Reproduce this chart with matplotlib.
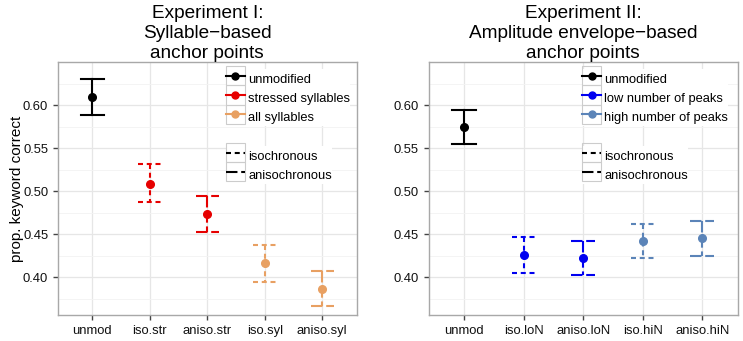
import matplotlib
matplotlib.use("Agg")
import matplotlib.pyplot as plt
from matplotlib.lines import Line2D
from matplotlib.patches import Rectangle
from matplotlib.legend_handler import HandlerLine2D

plt.rcParams["font.family"] = ["Liberation Sans", "DejaVu Sans"]

# Experimento I
cond1 = ["unmod", "iso.str", "aniso.str", "iso.syl", "aniso.syl"]
mean1 = [0.609, 0.5085, 0.4735, 0.416, 0.3865]
low1 = [0.589, 0.487, 0.4525, 0.3945, 0.3665]
high1 = [0.630, 0.5315, 0.4945, 0.437, 0.4075]
grupo1 = ["unmodified", "stressed syllables", "stressed syllables", "all syllables", "all syllables"]
tipo1 = ["solid", "iso", "aniso", "iso", "aniso"]

# Experimento II
cond2 = ["unmod", "iso.loN", "aniso.loN", "iso.hiN", "aniso.hiN"]
mean2 = [0.574, 0.4255, 0.4225, 0.442, 0.4455]
low2 = [0.5545, 0.4045, 0.4025, 0.4225, 0.425]
high2 = [0.594, 0.447, 0.442, 0.462, 0.4655]
grupo2 = ["unmodified", "low number of peaks", "low number of peaks",
          "high number of peaks", "high number of peaks"]
tipo2 = ["solid", "iso", "aniso", "iso", "aniso"]

colores = {
    "unmodified": "black",
    "stressed syllables": "#E60000",
    "all syllables": "#E8A062",
    "low number of peaks": "#0000F0",
    "high number of peaks": "#5B84B8",
}
estilos = {"solid": "-", "iso": (0, (2.4, 1.8)), "aniso": (0, (5.5, 1.8))}

titulos = ["Experiment I:\nSyllable\u2212based\nanchor points",
           "Experiment II:\nAmplitude envelope\u2212based\nanchor points"]


class Caja(HandlerLine2D):
    # clave de leyenda con recuadro gris, como en ggplot
    def create_artists(self, legend, orig_handle, xdescent, ydescent,
                       width, height, fontsize, trans):
        arts = super().create_artists(legend, orig_handle, xdescent, ydescent,
                                      width, height, fontsize, trans)
        centro = (height - ydescent) / 2
        r = Rectangle((-xdescent, centro - height / 2), width, height,
                      facecolor="none", edgecolor="#CCCCCC", lw=0.8,
                      transform=trans)
        return [r] + list(arts)


fig = plt.figure(figsize=(7.43, 3.41), dpi=100)
ax1 = fig.add_axes([0.078, 0.076, 0.402, 0.742])
ax2 = fig.add_axes([0.577, 0.076, 0.416, 0.742])


def panel(ax, cond, mean, low, high, grupo, tipo, titulo, leg_x, orden):
    x = list(range(1, len(cond) + 1))
    for xi, m, lo, hi, g, t in zip(x, mean, low, high, grupo, tipo):
        c = colores[g]
        ls = estilos[t]
        ax.plot([xi - 0.2, xi + 0.2], [hi, hi], color=c, ls=ls, lw=1.5, zorder=3)
        ax.plot([xi, xi], [hi, lo], color=c, ls=ls, lw=1.5, zorder=3)
        ax.plot([xi - 0.2, xi + 0.2], [lo, lo], color=c, ls=ls, lw=1.5, zorder=3)
        ax.plot(xi, m, "o", color=c, ms=5.5, zorder=4)

    ax.set_xlim(0.4, 5.6)
    ax.set_ylim(0.356, 0.65)
    ax.set_xticks(x)
    ax.set_xticklabels(cond)
    ax.set_yticks([0.40, 0.45, 0.50, 0.55, 0.60])
    ax.set_yticklabels(["0.40", "0.45", "0.50", "0.55", "0.60"])
    ax.set_yticks([0.375, 0.425, 0.475, 0.525, 0.575, 0.625], minor=True)
    ax.grid(True, which="major", color="#E6E6E6", lw=0.9)
    ax.grid(True, which="minor", axis="y", color="#F3F3F3", lw=0.6)
    ax.set_axisbelow(True)
    ax.tick_params(axis="both", which="major", labelsize=9.4, length=3.5,
                   color="#444444", width=1, labelcolor="#111111")
    ax.tick_params(axis="y", which="minor", length=0)
    for s in ax.spines.values():
        s.set_color("#A8A8A8")
        s.set_linewidth(1)
    ax.set_title(titulo, fontsize=13.7, linespacing=1.22, pad=3)

    opts = dict(loc="upper left", fontsize=9.3, handlelength=1.45,
                handleheight=1.89, handletextpad=0.25, labelspacing=0.0,
                borderpad=0.0, borderaxespad=0, frameon=True, fancybox=False,
                edgecolor="none", facecolor="white", framealpha=1,
                handler_map={Line2D: Caja()})
    h1 = [Line2D([], [], color=colores[g], marker="o", ms=5, lw=1.5) for g in orden]
    leg1 = ax.legend(h1, orden, bbox_to_anchor=(leg_x, 0.972), **opts)
    ax.add_artist(leg1)
    h2 = [Line2D([], [], color="black", lw=1.5, ls=estilos["iso"]),
          Line2D([], [], color="black", lw=1.5, ls=estilos["aniso"])]
    ax.legend(h2, ["isochronous", "anisochronous"],
              bbox_to_anchor=(leg_x, 0.668), **opts)


panel(ax1, cond1, mean1, low1, high1, grupo1, tipo1, titulos[0], 0.563,
      ["unmodified", "stressed syllables", "all syllables"])
panel(ax2, cond2, mean2, low2, high2, grupo2, tipo2, titulos[1], 0.497,
      ["unmodified", "low number of peaks", "high number of peaks"])
ax1.set_ylabel("prop. keyword correct", fontsize=11, labelpad=-1)

fig.savefig("out.png", dpi=100)
